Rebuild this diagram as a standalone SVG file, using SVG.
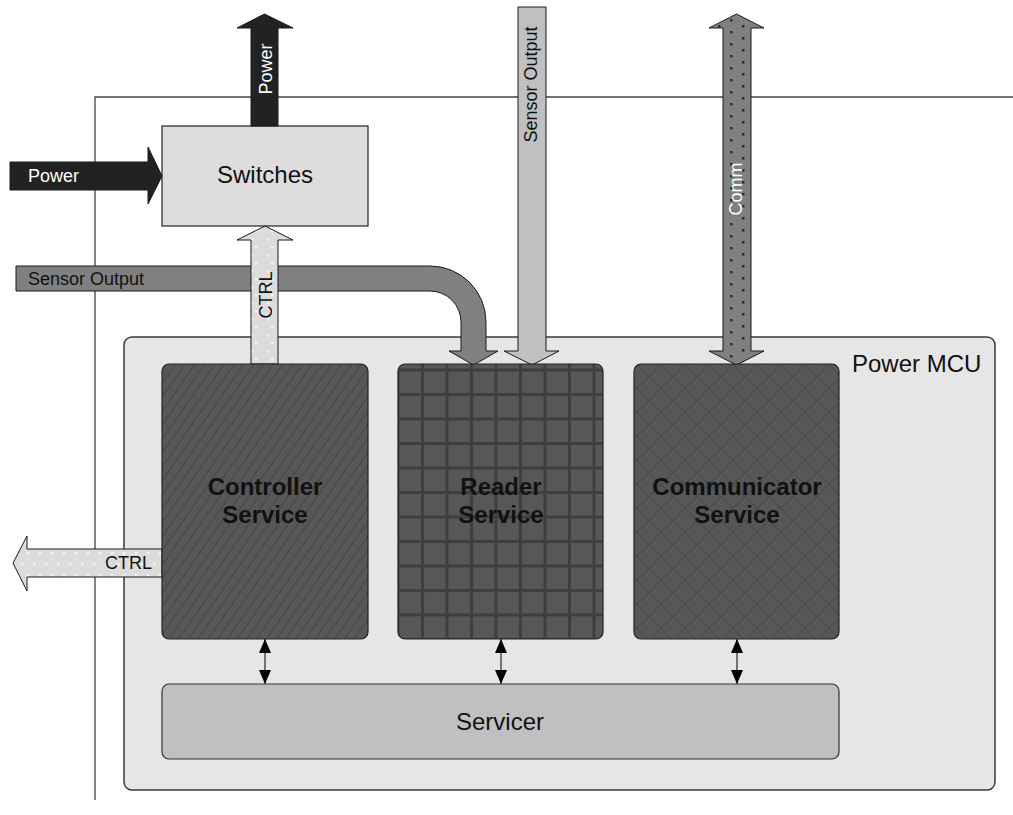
<svg xmlns="http://www.w3.org/2000/svg" width="1013" height="815" viewBox="0 0 1013 815">
  <style>
    text { font-family: "Liberation Sans", Arial, sans-serif; }
    .lbl { font-size: 18px; }
    .title { font-size: 24px; font-weight: bold; fill: #111; text-anchor: middle; }
    .big { font-size: 24px; fill: #111; }
    .edge { stroke: #1a1a1a; stroke-width: 1; }
    .bound { fill: none; stroke: #444; stroke-width: 1.3; }
    .svc { stroke: #222; stroke-width: 1.2; }
    .link { stroke: #000; stroke-width: 1; marker-start: url(#tri); marker-end: url(#tri); }
  </style>
  <defs>
    <!-- diagonal hatch -->
    <pattern id="hatch" width="8" height="8" patternUnits="userSpaceOnUse" patternTransform="rotate(35)">
      <rect width="8" height="8" fill="#575757"/>
      <line x1="1" y1="0" x2="1" y2="8" stroke="#424242" stroke-width="1.2"/>
      <line x1="2.2" y1="0" x2="2.2" y2="8" stroke="#666" stroke-width="0.8" stroke-dasharray="1.5 1.5"/>
    </pattern>
    <!-- square grid -->
    <pattern id="grid" x="421" y="344" width="24.5" height="24.5" patternUnits="userSpaceOnUse">
      <rect width="24.5" height="24.5" fill="#575757"/>
      <rect x="0" y="0" width="3" height="24.5" fill="#3e3e3e"/>
      <rect x="0" y="0" width="24.5" height="3" fill="#3e3e3e"/>
    </pattern>
    <!-- diamond crosshatch -->
    <pattern id="diamond" x="637" y="364" width="24" height="24" patternUnits="userSpaceOnUse">
      <rect width="24" height="24" fill="#575757"/>
      <path d="M0,0 L24,24 M24,0 L0,24" stroke="#454545" stroke-width="1.2"/>
      <path d="M1,0 L25,24 M23,0 L-1,24" stroke="#676767" stroke-width="0.7" stroke-dasharray="1.5 1.5"/>
    </pattern>
    <!-- dotted fills for the arrows -->
    <pattern id="dotsDark" x="725" y="19" width="24" height="12" patternUnits="userSpaceOnUse">
      <rect width="24" height="12" fill="#808080"/>
      <rect x="5" y="0" width="2.5" height="2.5" fill="#2e2e2e"/>
      <rect x="17" y="6" width="2.5" height="2.5" fill="#2e2e2e"/>
    </pattern>
    <pattern id="dotsLightV" x="253" y="230" width="16" height="16" patternUnits="userSpaceOnUse">
      <rect width="16" height="16" fill="#dcdcdc"/>
      <rect x="2" y="0" width="2.5" height="2.5" fill="#f4f4f4"/>
      <rect x="14" y="8" width="2.5" height="2.5" fill="#f4f4f4"/>
    </pattern>
    <pattern id="dotsLightH" x="15" y="552" width="12" height="22" patternUnits="userSpaceOnUse">
      <rect width="12" height="22" fill="#dcdcdc"/>
      <rect x="0" y="0" width="2.5" height="2.5" fill="#f4f4f4"/>
      <rect x="6" y="11" width="2.5" height="2.5" fill="#f4f4f4"/>
    </pattern>
    <marker id="tri" viewBox="0 0 14 12" markerWidth="14" markerHeight="12" refX="14" refY="6"
            orient="auto-start-reverse" markerUnits="userSpaceOnUse">
      <path d="M0,0 L14,6 L0,12 z" fill="#000"/>
    </marker>
  </defs>

  <rect width="1013" height="815" fill="#fff"/>

  <!-- system boundary -->
  <g id="boundary">
    <path class="bound" d="M95,800 V97 H1013"/>
  </g>

  <!-- Power MCU container -->
  <g id="power-mcu">
    <rect x="124" y="337" width="871" height="453" rx="8" fill="#e6e6e6" stroke="#3a3a3a" stroke-width="1.5"/>
    <text class="big" x="852" y="372">Power MCU</text>
  </g>

  <!-- Switches -->
  <g id="switches">
    <rect x="162" y="126" width="206" height="100" fill="#dddddd" stroke="#222" stroke-width="1.2"/>
    <text class="big" x="265" y="183" text-anchor="middle">Switches</text>
  </g>

  <!-- connectors -->
  <g id="connectors">
    <!-- sensor output bus bending into the reader -->
    <g id="sensor-in">
      <path class="edge" fill="#808080" d="M16,266 H430 A56,56 0 0 1 486,322 V351 H498 L473.5,365 L449,351 H461 V322 A31,31 0 0 0 430,291 H16 Z"/>
      <text class="lbl" x="28" y="285" fill="#111">Sensor Output</text>
    </g>
    <!-- control from controller up to switches -->
    <g id="ctrl-up">
      <path class="edge" fill="url(#dotsLightV)" d="M251,364 V240 H237 L265,226 L293,240 H278 V364 Z"/>
      <text class="lbl" transform="translate(272,295) rotate(-90)" text-anchor="middle" fill="#111">CTRL</text>
    </g>
    <!-- power out of switches -->
    <g id="power-out">
      <path class="edge" fill="#222" d="M251,126 V28 H237 L264.5,14 L293,28 H278 V126 Z"/>
      <text class="lbl" transform="translate(272,69) rotate(-90)" text-anchor="middle" fill="#fff">Power</text>
    </g>
    <!-- power into switches -->
    <g id="power-in">
      <path class="edge" fill="#222" d="M10,162 H148 V147 L162,176 L148,204 V190 H10 Z"/>
      <text class="lbl" x="28" y="182" fill="#fff">Power</text>
    </g>
    <!-- sensor output from above -->
    <g id="sensor-top">
      <path class="edge" fill="#c0c0c0" d="M518,7 H546 V351 H559 L532,365 L504,351 H518 Z"/>
      <text class="lbl" transform="translate(537,84.5) rotate(-90)" text-anchor="middle" fill="#111">Sensor Output</text>
    </g>
    <!-- comm link -->
    <g id="comm">
      <path class="edge" fill="url(#dotsDark)" d="M723,28 H709 L736.5,14 L764,28 H751 V351 H764 L736.5,365 L709,351 H723 Z"/>
      <text class="lbl" transform="translate(742,189) rotate(-90)" text-anchor="middle" fill="#fff">Comm</text>
    </g>
    <!-- control out to the left -->
    <g id="ctrl-left">
      <path class="edge" fill="url(#dotsLightH)" d="M162,549 H27 V536 L13,563 L27,591 V577 H162 Z"/>
      <text class="lbl" x="105" y="569" fill="#111">CTRL</text>
    </g>
    <!-- service to servicer links -->
    <line class="link" x1="265" y1="639" x2="265" y2="684"/>
    <line class="link" x1="501" y1="639" x2="501" y2="684"/>
    <line class="link" x1="737" y1="639" x2="737" y2="684"/>
  </g>

  <!-- services -->
  <g id="controller">
    <rect class="svc" x="162" y="364" width="206" height="275" rx="7" fill="url(#hatch)"/>
    <text class="title" x="265" y="495">Controller</text>
    <text class="title" x="265" y="523">Service</text>
  </g>
  <g id="reader">
    <rect class="svc" x="398" y="364" width="205" height="275" rx="7" fill="url(#grid)"/>
    <text class="title" x="501" y="495">Reader</text>
    <text class="title" x="501" y="523">Service</text>
  </g>
  <g id="communicator">
    <rect class="svc" x="634" y="364" width="205" height="275" rx="7" fill="url(#diamond)"/>
    <text class="title" x="737" y="495">Communicator</text>
    <text class="title" x="737" y="523">Service</text>
  </g>

  <!-- servicer -->
  <g id="servicer">
    <rect x="162" y="684" width="677" height="75" rx="7" fill="#c0c0c0" stroke="#333" stroke-width="1.2"/>
    <text class="big" x="500" y="730" text-anchor="middle">Servicer</text>
  </g>
</svg>
